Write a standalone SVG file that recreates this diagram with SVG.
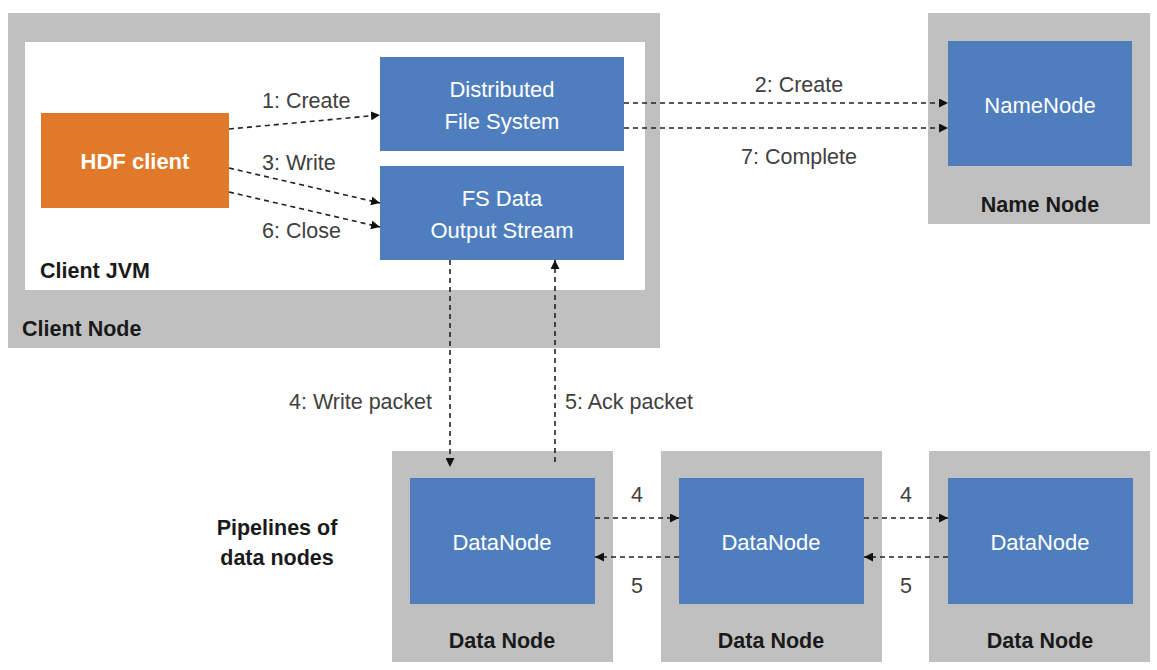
<svg xmlns="http://www.w3.org/2000/svg" width="1157" height="670" viewBox="0 0 1157 670">
<style>
.gray{fill:#c0c0c0}
.white{fill:#ffffff}
.blue{fill:#4f7ebe}
.orange{fill:#e07a2a}
.wt{fill:#ffffff;font-family:"Liberation Sans",Arial,sans-serif;font-size:22px;text-anchor:middle}
.bt{fill:#1a1a1a;font-family:"Liberation Sans",Arial,sans-serif;font-size:21.5px;font-weight:bold}
.lt{fill:#404040;font-family:"Liberation Sans",Arial,sans-serif;font-size:21.5px}
.conn{stroke:#222;stroke-width:1.6;stroke-dasharray:5 4;fill:none;marker-end:url(#ah)}
</style>
<defs>
<marker id="ah" viewBox="0 0 10 10" refX="10" refY="5" markerWidth="9" markerHeight="9" markerUnits="userSpaceOnUse" orient="auto">
<path d="M0,0 L10,5 L0,10 z" fill="#111"/>
</marker>
</defs>
<rect width="1157" height="670" fill="#ffffff"/>
<g id="client-node">
<rect class="gray" x="8" y="13" width="652" height="335"/>
<text class="bt" x="22" y="336">Client Node</text>
</g>
<g id="client-jvm">
<rect class="white" x="25" y="42" width="620" height="248"/>
<text class="bt" x="40" y="278">Client JVM</text>
</g>
<g id="hdf-client">
<rect class="orange" x="41" y="113" width="188" height="95"/>
<text class="wt" x="135" y="169" font-weight="bold" font-size="21">HDF client</text>
</g>
<g id="dfs">
<rect class="blue" x="380" y="57" width="244" height="94"/>
<text class="wt" x="502" y="97">Distributed</text>
<text class="wt" x="502" y="129">File System</text>
</g>
<g id="fsdos">
<rect class="blue" x="380" y="166" width="244" height="94"/>
<text class="wt" x="502" y="206">FS Data</text>
<text class="wt" x="502" y="238">Output Stream</text>
</g>
<g id="name-node">
<rect class="gray" x="928" y="13" width="222" height="211"/>
<rect class="blue" x="948" y="41" width="184" height="125"/>
<text class="wt" x="1040" y="113">NameNode</text>
<text class="bt" x="1040" y="212" text-anchor="middle">Name Node</text>
</g>
<g id="data-node-1">
<rect class="gray" x="392" y="451" width="221" height="211"/>
<rect class="blue" x="410" y="478" width="185" height="126"/>
<text class="wt" x="502" y="550">DataNode</text>
<text class="bt" x="502" y="648" text-anchor="middle">Data Node</text>
</g>
<g id="data-node-2">
<rect class="gray" x="661" y="451" width="221" height="211"/>
<rect class="blue" x="679" y="478" width="185" height="126"/>
<text class="wt" x="771" y="550">DataNode</text>
<text class="bt" x="771" y="648" text-anchor="middle">Data Node</text>
</g>
<g id="data-node-3">
<rect class="gray" x="929" y="451" width="221" height="211"/>
<rect class="blue" x="948" y="478" width="185" height="126"/>
<text class="wt" x="1040" y="550">DataNode</text>
<text class="bt" x="1040" y="648" text-anchor="middle">Data Node</text>
</g>
<g id="pipeline-label">
<text class="bt" x="277" y="535" text-anchor="middle">Pipelines of</text>
<text class="bt" x="277" y="565" text-anchor="middle">data nodes</text>
</g>
<g id="connectors">
<line class="conn" x1="229" y1="129" x2="380" y2="115"/>
<line class="conn" x1="229" y1="168" x2="380" y2="203"/>
<line class="conn" x1="229" y1="192" x2="380" y2="227"/>
<line class="conn" x1="624" y1="103" x2="948" y2="103"/>
<line class="conn" x1="624" y1="128" x2="948" y2="128"/>
<line class="conn" x1="450" y1="260" x2="450" y2="467"/>
<line class="conn" x1="555" y1="462" x2="555" y2="260"/>
<line class="conn" x1="595" y1="518" x2="679" y2="518"/>
<line class="conn" x1="679" y1="557" x2="595" y2="557"/>
<line class="conn" x1="864" y1="518" x2="948" y2="518"/>
<line class="conn" x1="948" y1="557" x2="864" y2="557"/>
<text class="lt" x="262" y="108">1: Create</text>
<text class="lt" x="262" y="170">3: Write</text>
<text class="lt" x="262" y="238">6: Close</text>
<text class="lt" x="799" y="92" text-anchor="middle">2: Create</text>
<text class="lt" x="799" y="164" text-anchor="middle">7: Complete</text>
<text class="lt" x="432" y="409" text-anchor="end">4: Write packet</text>
<text class="lt" x="565" y="409">5: Ack packet</text>
<text class="lt" x="637" y="502" text-anchor="middle">4</text>
<text class="lt" x="637" y="593" text-anchor="middle">5</text>
<text class="lt" x="906" y="502" text-anchor="middle">4</text>
<text class="lt" x="906" y="593" text-anchor="middle">5</text>
</g>
</svg>
